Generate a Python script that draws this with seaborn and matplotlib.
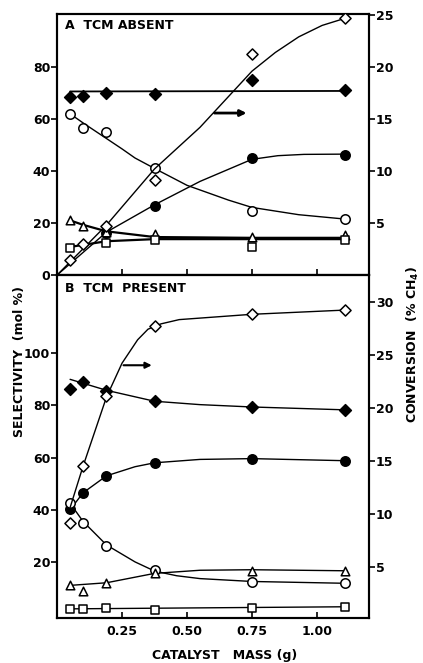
import matplotlib
matplotlib.use("Agg")
import matplotlib.pyplot as plt
import seaborn as sns

# catalyst mass (g) of the measured points
mass = [0.05, 0.10, 0.19, 0.375, 0.75, 1.11]

# ---- panel A: TCM absent ----
a_sel_fdiam = [68.5, 68.8, 70.0, 69.5, 75.0, 71.2]
a_sel_ocirc = [62.0, 56.7, 55.0, 41.0, 24.8, 21.5]
a_sel_fcirc_x = [0.19, 0.375, 0.75, 1.11]
a_sel_fcirc = [16.0, 26.5, 45.0, 46.0]
a_sel_tri = [21.0, 18.8, 16.5, 15.7, 14.8, 15.5]
a_sel_sq_x = [0.05, 0.19, 0.375, 0.75, 1.11]
a_sel_sq = [10.3, 12.3, 13.5, 10.7, 13.5]
a_conv_x = [0.05, 0.10, 0.19, 0.375, 0.75, 1.11]
a_conv = [1.45, 3.0, 4.7, 9.1, 21.3, 24.7]

# hand-drawn curves through panel A
a_curve_fdiam_x = [0.05, 1.11]
a_curve_fdiam = [70.6, 70.8]
a_curve_ocirc_x = [0.05, 0.10, 0.19, 0.25, 0.30, 0.375, 0.50, 0.66, 0.75, 0.93, 1.11]
a_curve_ocirc = [62.0, 58.5, 52.5, 48.5, 45.0, 41.0, 34.5, 28.8, 26.0, 23.2, 21.5]
a_curve_fcirc_x = [0.0, 0.19, 0.375, 0.55, 0.75, 0.85, 0.95, 1.11]
a_curve_fcirc = [0.0, 16.5, 27.0, 36.0, 44.5, 45.9, 46.4, 46.5]
a_curve_tri_x = [0.05, 0.10, 0.19, 0.375, 0.75, 1.11]
a_curve_tri = [21.0, 19.3, 16.8, 14.6, 14.3, 14.3]
a_curve_sq_x = [0.05, 0.19, 0.375, 0.75, 1.11]
a_curve_sq = [10.8, 13.0, 13.8, 13.8, 13.8]
a_curve_conv_x = [0.0, 0.19, 0.375, 0.55, 0.65, 0.75, 0.84, 0.93, 1.02, 1.11]
a_curve_conv = [0.0, 4.8, 10.2, 14.2, 16.9, 19.6, 21.4, 22.9, 24.0, 24.7]

# ---- panel B: TCM present ----
b_sel_fdiam = [86.2, 89.0, 85.6, 81.6, 79.4, 78.2]
b_sel_ocirc = [42.5, 35.1, 26.0, 16.9, 12.4, 11.8]
b_sel_fcirc = [40.1, 46.5, 53.0, 58.0, 59.6, 58.6]
b_sel_tri = [11.1, 8.9, 11.8, 15.6, 16.5, 16.5]
b_sel_sq = [1.9, 1.8, 2.3, 1.7, 2.4, 2.8]
b_conv = [9.1, 14.5, 21.1, 27.7, 28.8, 29.2]

b_curve_fdiam_x = [0.05, 0.10, 0.19, 0.375, 0.55, 0.75, 1.11]
b_curve_fdiam = [90.0, 88.5, 85.8, 81.6, 80.3, 79.4, 78.3]
b_curve_fcirc_x = [0.05, 0.10, 0.19, 0.30, 0.375, 0.55, 0.75, 1.11]
b_curve_fcirc = [40.0, 46.5, 53.0, 56.5, 58.0, 59.3, 59.6, 58.8]
b_curve_ocirc_x = [0.05, 0.10, 0.19, 0.30, 0.375, 0.46, 0.55, 0.75, 1.11]
b_curve_ocirc = [42.5, 35.5, 26.5, 20.0, 16.5, 14.7, 13.6, 12.5, 11.8]
b_curve_tri_x = [0.05, 0.19, 0.375, 0.55, 0.75, 1.11]
b_curve_tri = [11.0, 12.0, 15.6, 16.8, 17.0, 16.6]
b_curve_sq_x = [0.05, 1.11]
b_curve_sq = [2.0, 2.8]
b_curve_conv_x = [0.05, 0.10, 0.19, 0.25, 0.31, 0.35, 0.40, 0.47, 0.75, 1.11]
b_curve_conv = [10.6, 14.5, 21.0, 24.2, 26.4, 27.4, 27.9, 28.3, 28.8, 29.2]

x_ticks = [0.25, 0.50, 0.75, 1.00]
x_tick_labels = ["0.25", "0.50", "0.75", "1.00"]

sns.set_theme(style="ticks")
plt.rcParams["font.family"] = ["DejaVu Sans"]
plt.rcParams["font.weight"] = "bold"
plt.rcParams["text.color"] = "black"

BLACK = "black"


def curve(ax, xs, ys, lw=1.0):
    sns.lineplot(x=xs, y=ys, ax=ax, color=BLACK, linewidth=lw, sort=False,
                 estimator=None, legend=False)


def points(ax, xs, ys, marker, filled, size):
    sns.scatterplot(x=xs, y=ys, ax=ax, marker=marker, s=size,
                    color=BLACK if filled else "white", edgecolor=BLACK,
                    linewidth=1.1, zorder=5, legend=False)


def style_axes(ax):
    for sp in ax.spines.values():
        sp.set_linewidth(1.5)
        sp.set_color(BLACK)
    ax.tick_params(axis="y", direction="out", length=4, width=1.2,
                   labelsize=9, colors=BLACK, pad=1)
    ax.tick_params(axis="x", direction="in", length=4, width=1.2,
                   labelsize=9, colors=BLACK)


fig = plt.figure(figsize=(4.23, 6.63), dpi=100)
ax_a = fig.add_axes([0.135, 0.5852, 0.737, 0.3937])
ax_b = fig.add_axes([0.135, 0.0679, 0.737, 0.5173])

# ---------- panel A ----------
ax_a2 = ax_a.twinx()
curve(ax_a, a_curve_fdiam_x, a_curve_fdiam, 1.3)
curve(ax_a, a_curve_ocirc_x, a_curve_ocirc)
curve(ax_a, a_curve_fcirc_x, a_curve_fcirc)
curve(ax_a, a_curve_tri_x, a_curve_tri, 1.6)
curve(ax_a, a_curve_sq_x, a_curve_sq, 1.6)
curve(ax_a2, a_curve_conv_x, a_curve_conv)
points(ax_a, mass, a_sel_fdiam, "D", True, 36)
points(ax_a, mass, a_sel_ocirc, "o", False, 46)
points(ax_a, a_sel_fcirc_x, a_sel_fcirc, "o", True, 46)
points(ax_a, mass, a_sel_tri, "^", False, 38)
points(ax_a, a_sel_sq_x, a_sel_sq, "s", False, 32)
points(ax_a2, a_conv_x, a_conv, "D", False, 32)
ax_a.annotate("", xy=(0.74, 62.3), xytext=(0.595, 62.3),
              arrowprops=dict(arrowstyle="-|>", color=BLACK, lw=2.0,
                              mutation_scale=9))

ax_a.set_xlim(0, 1.2)
ax_a.set_ylim(0, 100.4)
ax_a2.set_ylim(0, 25.1)
ax_a.set_yticks([0, 20, 40, 60, 80])
ax_a2.set_yticks([5, 10, 15, 20, 25])
ax_a.set_xticks(x_ticks)
ax_a.set_xticklabels([])
ax_a.text(0.025, 0.955, "A  TCM ABSENT", transform=ax_a.transAxes,
          fontsize=9, fontweight="bold", va="center", ha="left")
style_axes(ax_a)
style_axes(ax_a2)

# ---------- panel B ----------
ax_b2 = ax_b.twinx()
curve(ax_b, b_curve_fdiam_x, b_curve_fdiam)
curve(ax_b, b_curve_fcirc_x, b_curve_fcirc)
curve(ax_b, b_curve_ocirc_x, b_curve_ocirc)
curve(ax_b, b_curve_tri_x, b_curve_tri)
curve(ax_b, b_curve_sq_x, b_curve_sq)
curve(ax_b2, b_curve_conv_x, b_curve_conv)
points(ax_b, mass, b_sel_fdiam, "D", True, 36)
points(ax_b, mass, b_sel_fcirc, "o", True, 46)
points(ax_b, mass, b_sel_ocirc, "o", False, 46)
points(ax_b, mass, b_sel_tri, "^", False, 38)
points(ax_b, mass, b_sel_sq, "s", False, 32)
points(ax_b2, mass, b_conv, "D", False, 32)
ax_b.annotate("", xy=(0.375, 95.4), xytext=(0.245, 95.4),
              arrowprops=dict(arrowstyle="-|>", color=BLACK, lw=1.5,
                              mutation_scale=9))

ax_b.set_xlim(0, 1.2)
ax_b.set_ylim(-1.5, 130)
ax_b2.set_ylim(0.2, 32.5)
ax_b.set_yticks([20, 40, 60, 80, 100])
ax_b2.set_yticks([5, 10, 15, 20, 25, 30])
ax_b.set_xticks(x_ticks)
ax_b.set_xticklabels(x_tick_labels)
ax_b.text(0.025, 0.962, "B  TCM  PRESENT", transform=ax_b.transAxes,
          fontsize=9, fontweight="bold", va="center", ha="left")
style_axes(ax_b)
style_axes(ax_b2)
ax_b.tick_params(axis="x", pad=5)

for a in (ax_a, ax_a2, ax_b, ax_b2):
    a.set_xlabel("")
    a.set_ylabel("")

fig.text(0.045, 0.455, "SELECTIVITY  (mol %)", rotation=90, ha="center",
         va="center", fontsize=9, fontweight="bold")
fig.text(0.977, 0.48, "CONVERSION  (% CH$_4$)", rotation=90, ha="center",
         va="center", fontsize=9, fontweight="bold")
fig.text(0.532, 0.011, "CATALYST   MASS (g)", ha="center", va="center",
         fontsize=9, fontweight="bold")

fig.savefig("out.png", dpi=100, facecolor="white")
